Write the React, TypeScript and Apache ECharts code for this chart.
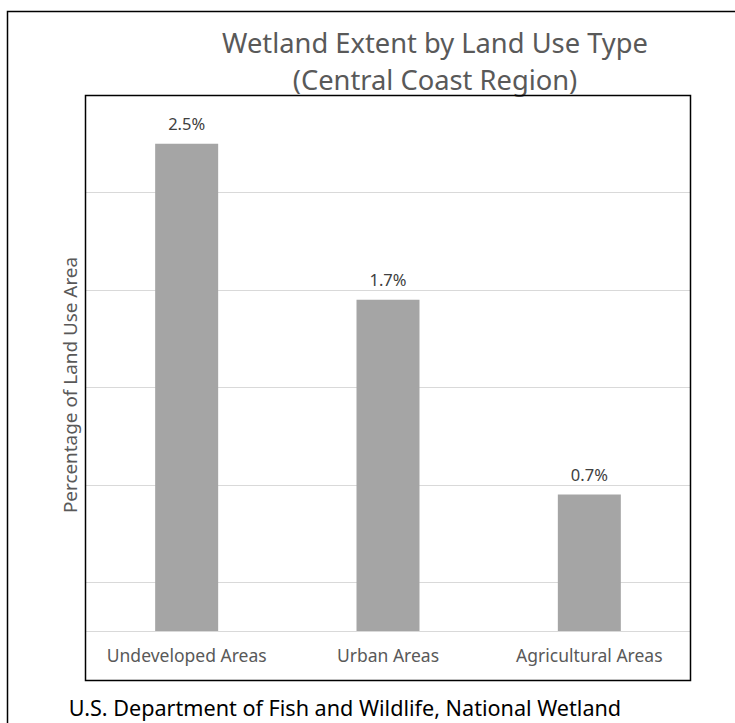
import React, { useEffect, useRef } from "react";
import * as echarts from "echarts";

const categories = ["Undeveloped Areas", "Urban Areas", "Agricultural Areas"];
const values = [2.5, 1.7, 0.7];
const yMin = 0;
const yMax = 2.75;
const yStep = 0.25;
const titleLines = ["Wetland Extent by Land Use Type", "(Central Coast Region)"];
const yName = "Percentage of Land Use Area";
const footer = "U.S. Department of Fish and Wildlife, National Wetland";

const FONT = "'Noto Sans', 'Open Sans', sans-serif";

export default function App() {
  const ref = useRef<HTMLDivElement>(null);
  useEffect(() => {
    if (!ref.current) return;
    const chart = echarts.init(ref.current, undefined, { renderer: "svg" });
    chart.setOption({
      animation: false,
      backgroundColor: "#ffffff",
      textStyle: { fontFamily: FONT },
      grid: { left: 86, right: 45, top: 95, bottom: 92, containLabel: false },
      xAxis: {
        type: "category",
        data: categories,
        axisLine: { show: true, lineStyle: { color: "#d9d9d9", width: 1 } },
        axisTick: { show: false },
        axisLabel: {
          color: "#595959",
          fontSize: 17.5,
          fontFamily: FONT,
          margin: 15,
          interval: 0,
          hideOverlap: false,
        },
        splitLine: { show: false },
      },
      yAxis: {
        type: "value",
        min: yMin,
        max: yMax,
        interval: yStep,
        axisLine: { show: false },
        axisTick: { show: false },
        axisLabel: { show: false },
        splitLine: {
          show: true,
          lineStyle: { color: ["transparent", "#d9d9d9"], width: 1 },
        },
      },
      series: [
        {
          type: "bar",
          data: values,
          barWidth: 63,
          itemStyle: { color: "#a5a5a5" },
          label: {
            show: true,
            position: "top",
            distance: 12,
            color: "#404040",
            fontSize: 16.5,
            fontFamily: FONT,
            formatter: (p: any) => p.value.toFixed(1) + "%",
          },
        },
      ],
      graphic: [
        {
          type: "rect",
          silent: true,
          shape: { x: 7.5, y: 11.5, width: 900, height: 900 },
          style: { fill: "none", stroke: "#000000", lineWidth: 1.5 },
          z: 100,
        },
        {
          type: "rect",
          silent: true,
          shape: { x: 85.5, y: 95.5, width: 605, height: 585 },
          style: { fill: "none", stroke: "#000000", lineWidth: 1.5 },
          z: 100,
        },
        {
          type: "text",
          x: 435,
          y: 42,
          style: {
            text: titleLines[0],
            fontSize: 27.3,
            fontFamily: FONT,
            fill: "#595959",
            align: "center",
            verticalAlign: "middle",
          },
        },
        {
          type: "text",
          x: 435,
          y: 79,
          style: {
            text: titleLines[1],
            fontSize: 27.3,
            fontFamily: FONT,
            fill: "#595959",
            align: "center",
            verticalAlign: "middle",
          },
        },
        {
          type: "text",
          x: 70,
          y: 385,
          rotation: Math.PI / 2,
          style: {
            text: yName,
            fontSize: 18.9,
            fontFamily: FONT,
            fill: "#595959",
            align: "center",
            verticalAlign: "middle",
          },
        },
        {
          type: "text",
          x: 345,
          y: 707,
          style: {
            text: footer,
            fontSize: 21.6,
            fontFamily: FONT,
            fill: "#000000",
            align: "center",
            verticalAlign: "middle",
          },
        },
      ],
    });
    return () => chart.dispose();
  }, []);
  return (
    <div
      ref={ref}
      style={{ position: "fixed", left: 0, top: 0, width: 735, height: 723 }}
    />
  );
}
